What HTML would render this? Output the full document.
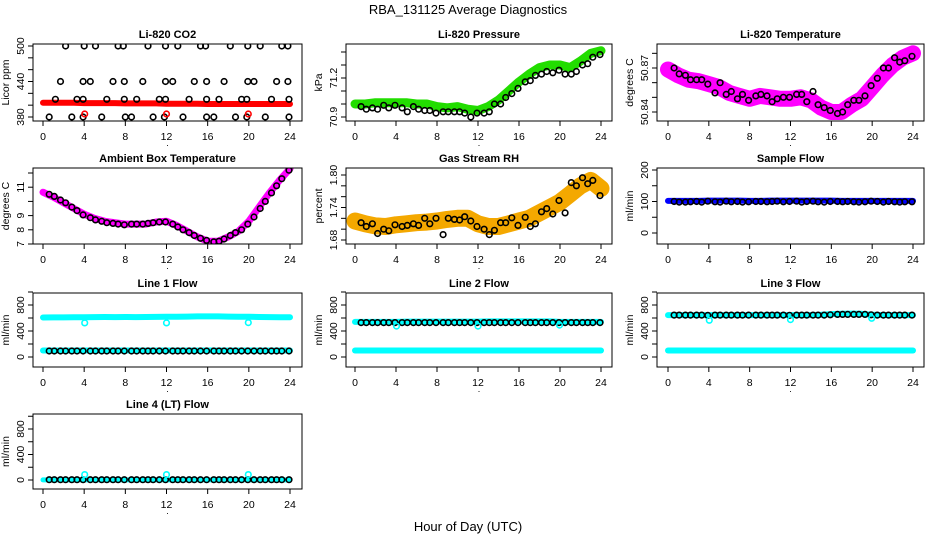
<!DOCTYPE html>
<html><head><meta charset="utf-8"><style>
body{margin:0;background:#fff}
svg{display:block;font-family:"Liberation Sans",sans-serif}
</style></head><body>
<svg id="c" width="936" height="540" viewBox="0 0 936 540">
<text x="468" y="14" text-anchor="middle" font-size="13">RBA_131125  Average Diagnostics</text>
<text x="468" y="531" text-anchor="middle" font-size="13">Hour of Day (UTC)</text>
</svg>
<script>
const xTicks=[0,4,8,12,16,20,24];
const bandHours=[0,1,2,3,4,5,6,7,8,9,10,11,12,13,14,15,16,17,18,19,20,21,22,23,24];
const circleHours=[0.6,1.1,1.7,2.2,2.8,3.3,3.9,4.6,5.1,5.7,6.2,6.8,7.3,7.9,8.6,9.1,9.7,10.2,10.7,11.3,11.9,12.6,13.1,13.6,14.2,14.7,15.3,15.9,16.6,17.1,17.6,18.2,18.7,19.3,19.9,20.5,21.1,21.6,22.2,22.7,23.2,23.9];
const outlierHours=[4.05,12.0,19.95];

const co2Band=[404,404,404,404,403.5,403.5,403.5,403.5,403,403,403,403,402.5,402.5,402.5,402.5,402,402,402,402,402,402,402,402,402];
const co2HighHours=[2.2,4.0,5.1,7.3,7.8,10.2,11.9,13.1,15.3,15.8,18.2,19.9,21.1,23.2,23.8];
const co2MidHours=[1.7,3.9,4.6,6.8,7.9,9.7,11.9,12.6,14.7,15.9,17.6,19.9,20.5,22.7,23.8];
const co2LowHours=[1.2,3.3,3.9,6.2,7.9,9.1,11.3,11.9,14.2,15.9,17.1,19.3,19.8,22.2,23.9];
const co2MinHours=[0.6,2.8,3.9,5.7,8.0,8.6,10.7,11.8,13.6,15.9,16.6,18.7,19.8,21.6,23.9];
const co2Levels=[500,440,410,380];
const co2Outliers=[385,385,385];

const presBand=[71.00,71.00,71.01,71.01,71.01,71.01,71.00,71.00,70.98,70.97,70.98,70.96,70.95,70.98,71.03,71.10,71.17,71.23,71.28,71.30,71.30,71.28,71.33,71.39,71.41];
const presCircles=[70.98,70.96,70.97,70.96,70.99,70.97,70.99,70.97,70.94,70.98,70.96,70.95,70.95,70.93,70.94,70.94,70.94,70.94,70.93,70.90,70.93,70.93,70.94,71.00,71.00,71.05,71.08,71.12,71.17,71.18,71.22,71.23,71.25,71.24,71.26,71.23,71.23,71.25,71.30,71.31,71.36,71.38];

const tempBand=[50.869,50.865,50.862,50.861,50.859,50.857,50.853,50.851,50.849,50.851,50.850,50.849,50.849,50.850,50.848,50.843,50.840,50.840,50.845,50.849,50.857,50.865,50.872,50.877,50.880];
const tempCircles=[50.870,50.866,50.865,50.862,50.862,50.862,50.859,50.853,50.860,50.852,50.854,50.849,50.852,50.848,50.851,50.852,50.851,50.847,50.849,50.850,50.850,50.852,50.852,50.847,50.854,50.845,50.843,50.841,50.839,50.840,50.845,50.848,50.848,50.851,50.858,50.863,50.870,50.870,50.877,50.874,50.875,50.878];

const ambBand=[10.65,10.3,9.9,9.5,9.1,8.8,8.6,8.5,8.4,8.4,8.4,8.55,8.6,8.3,7.9,7.5,7.2,7.2,7.5,7.9,8.6,9.6,10.6,11.5,12.3];
const ambCircles=[10.5,10.35,10.1,9.9,9.6,9.35,9.05,8.85,8.7,8.6,8.5,8.45,8.4,8.35,8.4,8.4,8.4,8.45,8.5,8.55,8.55,8.4,8.2,8.0,7.8,7.6,7.4,7.25,7.15,7.2,7.35,7.6,7.8,8.0,8.4,8.9,9.5,10.0,10.6,11.1,11.6,12.2];

const rhBand=[1.715,1.71,1.706,1.705,1.708,1.71,1.712,1.713,1.715,1.718,1.72,1.72,1.71,1.705,1.705,1.71,1.715,1.72,1.73,1.74,1.75,1.765,1.78,1.79,1.775];
const rhCircles=[1.712,1.705,1.71,1.692,1.70,1.697,1.708,1.705,1.707,1.71,1.707,1.72,1.71,1.72,1.69,1.72,1.718,1.717,1.723,1.715,1.705,1.70,1.69,1.698,1.712,1.712,1.721,1.707,1.722,1.705,1.71,1.732,1.738,1.728,1.753,1.73,1.786,1.78,1.795,1.784,1.79,1.762];

const sampleBand=[102,102,102,102,103,103,103,103,102,102,103,103,103,103,103,103,103,102,102,102,102,102,102,102,102];
const sampleCircles=[100,98,98,99,100,98,101,99,98,101,99,100,98,99,100,100,99,100,101,99,100,101,98,100,101,99,98,100,100,99,100,99,98,99,101,100,98,100,99,98,99,99];

const line1CyanHigh=[608,610,610,612,612,614,616,614,615,614,616,617,618,620,622,624,625,624,622,620,618,616,614,612,612];
const line1CyanLow=[100,100,100,100,100,100,100,100,100,100,100,100,100,100,100,100,100,100,100,100,100,100,100,100,100];
const line1Black=[92,92,92,92,92,92,92,92,92,92,92,92,92,92,92,92,92,92,92,92,92,92,92,92,92,92,92,92,92,92,92,92,92,92,92,92,92,92,92,92,92,92];
const line1Outliers=[525,525,530];

const line2CyanHigh=[540,540,540,540,540,545,545,545,545,545,545,545,545,548,548,548,548,548,548,548,540,540,540,540,540];
const line2CyanLow=[100,100,100,100,100,100,100,100,100,100,100,100,100,100,100,100,100,100,100,100,100,100,100,100,100];
const line2Black=[530,530,530,530,530,530,530,530,530,530,530,530,530,530,530,530,530,530,530,530,530,530,530,530,530,530,530,530,530,530,530,530,530,530,530,530,530,530,530,530,530,530];
const line2Outliers=[475,475,490];

const line3CyanHigh=[645,645,645,645,645,645,645,645,645,645,645,645,645,645,645,650,660,665,668,665,650,645,645,645,645];
const line3CyanLow=[100,100,100,100,100,100,100,100,100,100,100,100,100,100,100,100,100,100,100,100,100,100,100,100,100];
const line3Black=[645,645,645,645,645,645,640,645,645,645,645,645,645,645,645,645,645,645,645,645,642,645,645,645,645,645,645,650,655,655,655,655,655,655,650,645,645,645,645,645,645,645];
const line3Outliers=[565,575,595];

const line4CyanLow=[2,2,2,2,2,2,2,2,2,2,2,2,2,2,2,2,2,2,2,2,2,2,2,2,2];
const line4Black=[5,5,5,5,5,5,5,5,5,5,5,5,5,5,5,5,5,5,5,5,5,5,5,5,5,5,5,5,5,5,5,5,5,5,5,5,5,5,5,5,5,5];
const line4Outliers=[85,85,85];

const NS='http://www.w3.org/2000/svg';
const svg=document.getElementById('c');
function mk(tag,attrs,parent){const e=document.createElementNS(NS,tag);for(const k in attrs)e.setAttribute(k,attrs[k]);(parent||svg).appendChild(e);return e;}
const cols=[{bx0:33,bx1:302,x0:43,x1:290},{bx0:346,bx1:612,x0:355,x1:601},{bx0:657,bx1:924,x0:668,x1:913}];
const rows=[{by0:44,by1:121},{by0:168,by1:244},{by0:293,by1:367},{by0:414,by1:489}];

function panel(o){
  const c=cols[o.col],r=rows[o.row];
  const g=mk('g',{});
  
  
  const xs=h=>c.x0+(h/24)*(c.x1-c.x0);
  const ys=v=>o.p0+(v-o.v0)*(o.p1-o.p0)/(o.v1-o.v0);
  const t=mk('text',{x:(c.bx0+c.bx1)/2,y:r.by0-6,'text-anchor':'middle','font-size':11,'font-weight':'bold'},g);
  t.textContent=o.title;
  
  
  const clip='clip'+o.col+o.row;
  const cp=mk('clipPath',{id:clip},g);
  mk('rect',{x:c.bx0,y:r.by0,width:c.bx1-c.bx0,height:r.by1-r.by0},cp);
  const pg=mk('g',{'clip-path':'url(#'+clip+')'},g);
  (o.bands||[]).forEach(b=>{
    const pts=bandHours.map((h,i)=>xs(h).toFixed(1)+','+ys(b.v[i]).toFixed(1)).join(' ');
    const pl=mk('polyline',{points:pts,fill:'none',stroke:b.color,'stroke-width':b.w,'stroke-linejoin':'round','stroke-linecap':'round'},pg);
    
    
  });
  (o.dots||[]).forEach(d=>{
    d.h.forEach((h,i)=>{
      const ci=mk('circle',{cx:xs(h).toFixed(1),cy:ys(d.v[i]).toFixed(1),r:d.r||2.8,fill:'none',stroke:d.color,'stroke-width':d.sw||1.6},pg);
      
      
    });
  });
  const box=mk('rect',{x:c.bx0,y:r.by0,width:c.bx1-c.bx0,height:r.by1-r.by0,fill:'none',stroke:'#000','stroke-width':1},g);
  
  
  xTicks.forEach(v=>{
    const x=xs(v);
    mk('line',{x1:x,x2:x,y1:r.by1,y2:r.by1+5,stroke:'#000'},g);
    const tl=mk('text',{x:x,y:r.by1+19,'text-anchor':'middle','font-size':10.5},g);
    tl.textContent=v;
    
    
  });
  mk('text',{x:(c.bx0+c.bx1)/2,y:r.by1+25,'text-anchor':'middle','font-size':9},g).textContent='.';
  o.yt.forEach(v=>{
    const y=ys(v);
    mk('line',{x1:c.bx0-5,x2:c.bx0,y1:y,y2:y,stroke:'#000'},g);
  });
  o.yl.forEach(v=>{
    const y=ys(v);
    const tl=mk('text',{x:c.bx0-9,y:y,'text-anchor':'middle','font-size':10.5,transform:'rotate(-90 '+(c.bx0-9)+' '+y+')'},g);
    tl.textContent=o.fmt?o.fmt(v):v;
    
    
  });
  const my=(r.by0+r.by1)/2, mx=c.bx0-24;
  const yl=mk('text',{x:mx,y:my,'text-anchor':'middle','font-size':10.5,transform:'rotate(-90 '+mx+' '+my+')'},g);
  yl.textContent=o.ylab;
  
  
}

panel({name:'co2-panel',col:0,row:0,title:'Li-820 CO2',ylab:'Licor ppm',v0:380,p0:117,v1:500,p1:46,
  yt:[380,400,420,440,460,480,500],yl:[380,440,500],
  bands:[{v:co2Band,color:'#ff0000',w:6}],
  dots:[{h:co2HighHours,v:co2HighHours.map(()=>co2Levels[0]),color:'#000'},
        {h:co2MidHours,v:co2MidHours.map(()=>co2Levels[1]),color:'#000'},
        {h:co2LowHours,v:co2LowHours.map(()=>co2Levels[2]),color:'#000'},
        {h:co2MinHours,v:co2MinHours.map(()=>co2Levels[3]),color:'#000'},
        {h:outlierHours,v:co2Outliers,color:'#ff0000'}]});
panel({name:'pressure-panel',col:1,row:0,title:'Li-820 Pressure',ylab:'kPa',v0:70.9,p0:117,v1:71.2,p1:78,
  yt:[70.9,71.0,71.1,71.2,71.3,71.4],yl:[70.9,71.2],fmt:v=>v.toFixed(1),
  bands:[{v:presBand,color:'#22dd00',w:9}],
  dots:[{h:circleHours,v:presCircles,color:'#000'}]});
panel({name:'temperature-panel',col:2,row:0,title:'Li-820 Temperature',ylab:'degrees C',v0:50.84,p0:112,v1:50.87,p1:68,
  yt:[50.84,50.85,50.86,50.87,50.88],yl:[50.84,50.87],fmt:v=>v.toFixed(2),
  bands:[{v:tempBand,color:'#ff00ff',w:16}],
  dots:[{h:circleHours,v:tempCircles,color:'#000'}]});
panel({name:'ambient-temp-panel',col:0,row:1,title:'Ambient Box Temperature',ylab:'degrees C',v0:7,p0:244,v1:12,p1:173,
  yt:[7,8,9,10,11,12],yl:[7,8,9,11],
  bands:[{v:ambBand,color:'#ff00ff',w:7}],
  dots:[{h:circleHours,v:ambCircles,color:'#000'}]});
panel({name:'rh-panel',col:1,row:1,title:'Gas Stream RH',ylab:'percent',v0:1.68,p0:240,v1:1.80,p1:175,
  yt:[1.68,1.70,1.72,1.74,1.76,1.78,1.80],yl:[1.68,1.74,1.80],fmt:v=>v.toFixed(2),
  bands:[{v:rhBand,color:'#f4a800',w:17}],
  dots:[{h:circleHours,v:rhCircles,color:'#000'}]});
panel({name:'sample-flow-panel',col:2,row:1,title:'Sample Flow',ylab:'ml/min',v0:0,p0:233,v1:200,p1:170,
  yt:[0,50,100,150,200],yl:[0,100,200],
  bands:[{v:sampleBand,color:'#0000ff',w:6}],
  dots:[{h:circleHours,v:sampleCircles,color:'#000'}]});
const flowTicks=[0,200,400,600,800,1000],flowLabels=[0,400,800];
panel({name:'line1-flow-panel',col:0,row:2,title:'Line 1 Flow',ylab:'ml/min',v0:0,p0:357,v1:800,p1:305,
  yt:flowTicks,yl:flowLabels,
  bands:[{v:line1CyanHigh,color:'#00ffff',w:6},{v:line1CyanLow,color:'#00ffff',w:6}],
  dots:[{h:circleHours,v:line1Black,color:'#000'},{h:outlierHours,v:line1Outliers,color:'#00ffff'}]});
panel({name:'line2-flow-panel',col:1,row:2,title:'Line 2 Flow',ylab:'ml/min',v0:0,p0:357,v1:800,p1:305,
  yt:flowTicks,yl:flowLabels,
  bands:[{v:line2CyanHigh,color:'#00ffff',w:6},{v:line2CyanLow,color:'#00ffff',w:6}],
  dots:[{h:circleHours,v:line2Black,color:'#000'},{h:outlierHours,v:line2Outliers,color:'#00ffff'}]});
panel({name:'line3-flow-panel',col:2,row:2,title:'Line 3 Flow',ylab:'ml/min',v0:0,p0:357,v1:800,p1:305,
  yt:flowTicks,yl:flowLabels,
  bands:[{v:line3CyanHigh,color:'#00ffff',w:6},{v:line3CyanLow,color:'#00ffff',w:6}],
  dots:[{h:circleHours,v:line3Black,color:'#000'},{h:outlierHours,v:line3Outliers,color:'#00ffff'}]});
panel({name:'line4-flow-panel',col:0,row:3,title:'Line 4 (LT) Flow',ylab:'ml/min',v0:0,p0:480,v1:800,p1:429,
  yt:flowTicks,yl:flowLabels,
  bands:[{v:line4CyanLow,color:'#00ffff',w:5}],
  dots:[{h:circleHours,v:line4Black,color:'#000'},{h:outlierHours,v:line4Outliers,color:'#00ffff'}]});
</script>
</body></html>
